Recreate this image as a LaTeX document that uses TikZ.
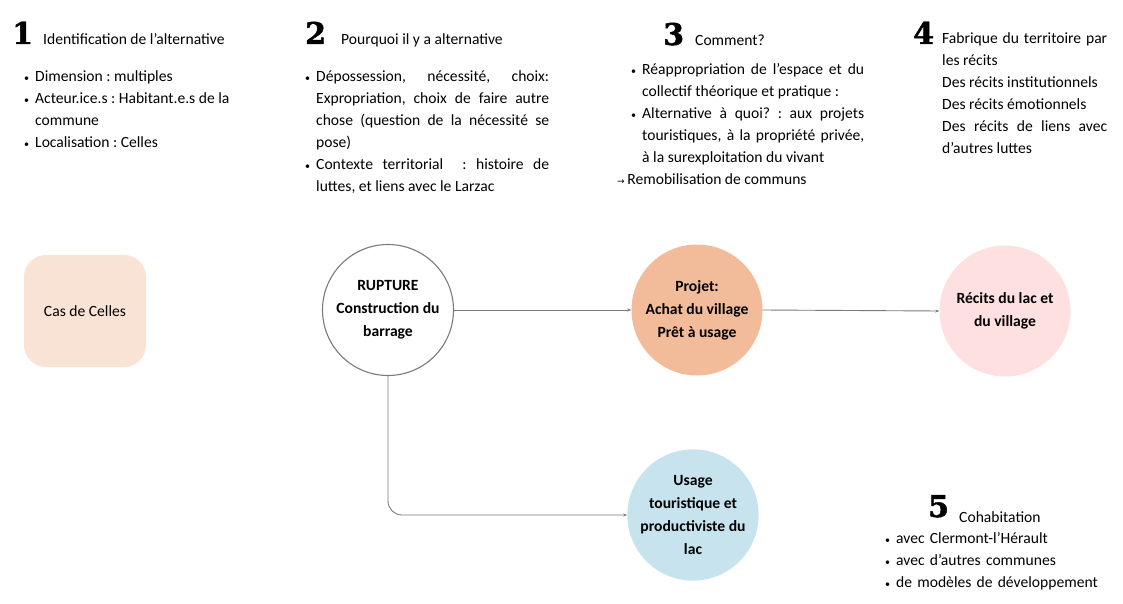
\documentclass[tikz,border=0pt]{standalone}
\usepackage{fontspec}
\setmainfont{Carlito}
\newfontfamily\numfont[BoldFeatures={FakeBold=1.5}]{DejaVu Serif}
\newfontfamily\symfont{DejaVu Sans}
\usetikzlibrary{arrows.meta}
\definecolor{projfill}{HTML}{F2BC9A}
\definecolor{recfill}{HTML}{FDE0DF}
\definecolor{usefill}{HTML}{C6E3EE}
\definecolor{casfill}{HTML}{F9E3D4}
\definecolor{linegray}{HTML}{7A7A7A}
\frenchspacing
\newcommand{\bul}[1]{\hangindent=11pt\hangafter=1\noindent\makebox[11pt][l]{\fontsize{10}{10}\selectfont•}#1\par}
\begin{document}
\begin{tikzpicture}[x=1pt,y=-1pt,
  txt/.style={inner sep=0pt,anchor=base west,font=\fontsize{15.6}{22}\selectfont},
  blk/.style={txt,align=justify},
  num/.style={inner sep=0pt,anchor=base west,font=\numfont\bfseries\fontsize{30}{30}\selectfont},
  circ/.style={circle,minimum size=131pt,inner sep=0pt,align=center,font=\bfseries\fontsize{15.6}{23}\selectfont},
  conn/.style={draw=linegray,line width=0.9pt,-{Stealth[length=4pt,width=3pt]}}]
\useasboundingbox (0,0) rectangle (1123,604);
% block 1
\node[num] (n1) at (12,44) {1};
\node[txt] (h1) at (43,45) {Identification de l’alternative};
\node[blk,text width=220pt] (b1) at (24,82) {\bul{Dimension : multiples}\bul{Acteur.ice.s : Habitant.e.s de la\hfill\break commune}\bul{Localisation : Celles}};
% block 2
\node[num] (n2) at (305,44) {2};
\node[txt] (h2) at (341,45) {Pourquoi il y a alternative};
\node[blk,text width=244pt] (b2) at (305,82) {\bul{Dépossession, nécessité, choix:\linebreak Expropriation, choix de faire autre\linebreak chose (question de la nécessité se\linebreak pose)}\bul{Contexte territorial\ \ : histoire de\linebreak luttes, et liens avec le Larzac}};
% block 3
\node[num] (n3) at (663,45) {3};
\node[txt] (h3) at (695,46) {Comment?};
\node[blk,text width=233pt] (b3) at (631,75) {\bul{Réappropriation de l’espace et du\linebreak collectif théorique et pratique :}\bul{Alternative à quoi? : aux projets\linebreak touristiques, à la propriété privée,\linebreak à la surexploitation du vivant}};
\node[txt] (a3) at (617,185) {{\symfont\fontsize{9}{9}\selectfont →}\,Remobilisation de communs};
% block 4
\node[num] (n4) at (913,44) {4};
\node[blk,text width=165pt] (b4) at (942,44) {\noindent Fabrique du territoire par\linebreak les récits\par\noindent Des récits institutionnels\par\noindent Des récits émotionnels\par\noindent Des récits de liens avec\linebreak d’autres luttes\par};
% block 5
\node[num] (n5) at (928,517) {5};
\node[txt] (h5) at (959,522) {Cohabitation};
\node[blk,text width=230pt,align=left] (b5) at (885,543) {\bul{avec Clermont-l’Hérault}\bul{avec d’autres communes}\bul{de modèles de développement}};
% diagram
\node[draw=none,fill=casfill,rounded corners=22pt,minimum width=122pt,minimum height=112pt,inner sep=0pt,font=\fontsize{15.6}{22}\selectfont] (cas) at (85,311) {Cas de Celles};
\node[circ,draw=linegray,line width=1.1pt] (rup) at (388,310) {RUPTURE\\Construction du\\barrage};
\node[circ,fill=projfill] (proj) at (697,310) {Projet:\\Achat du village\\Prêt à usage};
\node[circ,fill=recfill] (rec) at (1005,311) {Récits du lac et\\du village};
\node[circ,fill=usefill] (use) at (693,515) {Usage\\touristique et\\productiviste du\\lac};
\draw[conn] (rup.east) -- (proj.west);
\draw[conn] (proj.east) -- (rec.west);
\draw[conn,rounded corners=14pt] (rup.south) |- (use.west);
\end{tikzpicture}
\end{document}
